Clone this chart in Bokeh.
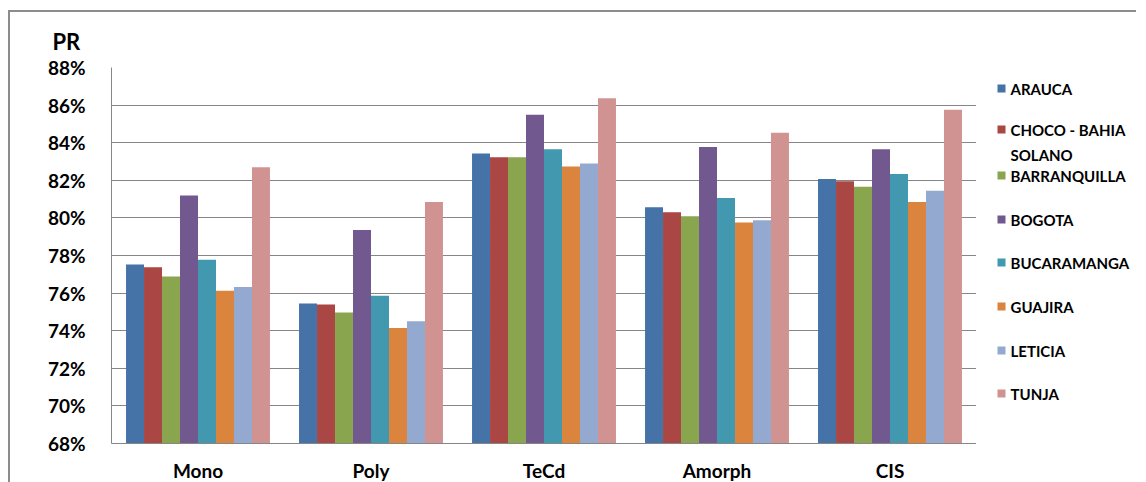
from bokeh.plotting import figure
from bokeh.models import FactorRange, Range1d, NumeralTickFormatter, FixedTicker
from bokeh.transform import dodge
from bokeh.layouts import row
from bokeh.core.properties import value
from bokeh.embed import file_html
from bokeh.resources import INLINE

categories = ["Mono", "Poly", "TeCd", "Amorph", "CIS"]
series = ["ARAUCA", "CHOCO - BAHIA\nSOLANO", "BARRANQUILLA", "BOGOTA",
          "BUCARAMANGA", "GUAJIRA", "LETICIA", "TUNJA"]
colors = ["#4572A7", "#AA4643", "#89A54E", "#71588F",
          "#4198AF", "#DB843D", "#93A9CF", "#D19392"]

arauca       = [0.7752, 0.7545, 0.8343, 0.8057, 0.8207]
choco        = [0.7737, 0.7540, 0.8322, 0.8030, 0.8195]
barranquilla = [0.7688, 0.7497, 0.8322, 0.8009, 0.8166]
bogota       = [0.8119, 0.7935, 0.8549, 0.8377, 0.8365]
bucaramanga  = [0.7777, 0.7586, 0.8365, 0.8106, 0.8234]
guajira      = [0.7612, 0.7414, 0.8274, 0.7975, 0.8085]
leticia      = [0.7633, 0.7450, 0.8289, 0.7988, 0.8145]
tunja        = [0.8270, 0.8085, 0.8636, 0.8453, 0.8575]
values = [arauca, choco, barranquilla, bogota, bucaramanga, guajira, leticia, tunja]

y_ticks = [0.68, 0.70, 0.72, 0.74, 0.76, 0.78, 0.80, 0.82, 0.84, 0.86, 0.88]

FONT = "Lato"
GRID = "#868686"
MB_TOP, MB_BOT, FH = 55, 36, 376

p = figure(x_range=FactorRange(*categories, range_padding=0),
           y_range=Range1d(0.68, 0.88),
           frame_width=865, frame_height=FH,
           min_border_left=101, min_border_top=MB_TOP, min_border_bottom=MB_BOT,
           min_border_right=0, title="PR",
           output_backend="svg", toolbar_location=None)
p.outline_line_color = None
p.background_fill_color = "white"
p.border_fill_color = "white"

p.title.text_font = FONT
p.title.text_font_style = "bold"
p.title.text_font_size = "22px"
p.title.text_color = "black"
p.title.align = "left"
p.title.offset = -59
p.title.standoff = 25

bw = 0.104
for i, (name, vals, col) in enumerate(zip(series, values, colors)):
    src = {"cat": categories, "v": vals}
    p.vbar(x=dodge("cat", (i - 3.5) * bw, range=p.x_range), top="v", bottom=0.68,
           width=bw, source=src, fill_color=col, line_color=None)

p.yaxis.ticker = FixedTicker(ticks=y_ticks)
p.yaxis.formatter = NumeralTickFormatter(format="0%")
p.yaxis.major_tick_line_color = None
p.yaxis.minor_tick_line_color = None
p.yaxis.axis_line_color = GRID
p.yaxis.major_label_standoff = 20
p.yaxis.major_label_text_font = FONT
p.yaxis.major_label_text_font_style = "bold"
p.yaxis.major_label_text_font_size = "19px"
p.yaxis.major_label_text_color = "black"

p.xaxis.major_tick_line_color = None
p.xaxis.axis_line_color = GRID
p.xaxis.major_label_standoff = 9
p.xaxis.major_label_text_font = FONT
p.xaxis.major_label_text_font_style = "bold"
p.xaxis.major_label_text_font_size = "19px"
p.xaxis.major_label_text_color = "black"

p.xgrid.grid_line_color = None
p.ygrid.grid_line_color = GRID
p.ygrid.grid_line_width = 1

# legend panel: its frame is aligned with the main frame (page y 67..443)
q = figure(frame_width=160, frame_height=FH,
           x_range=Range1d(0, 160), y_range=Range1d(443, 67),
           min_border_left=0, min_border_right=0,
           min_border_top=MB_TOP, min_border_bottom=MB_BOT,
           output_backend="svg", toolbar_location=None)
q.axis.visible = False
q.grid.visible = False
q.outline_line_color = None
q.background_fill_color = "white"
q.border_fill_color = "white"

entry_y = [88, 129, 175, 219, 262, 306, 350, 393]
q.rect(x=[25] * len(series), y=entry_y, width=8, height=8,
       fill_color=colors, line_color=None)
q.text(x=[34] * len(series), y=[yy - 9 for yy in entry_y], text=series,
       text_font=value(FONT), text_font_style="bold", text_font_size="15px",
       text_color="black", text_baseline="top", text_line_height=1.4)

layout = row(p, q, styles={"border-left": "2px solid #8c8c8c",
                           "border-top": "2px solid #8c8c8c",
                           "margin-left": "8px", "margin-top": "10px"})

open("out.html", "w").write(file_html(layout, INLINE))
